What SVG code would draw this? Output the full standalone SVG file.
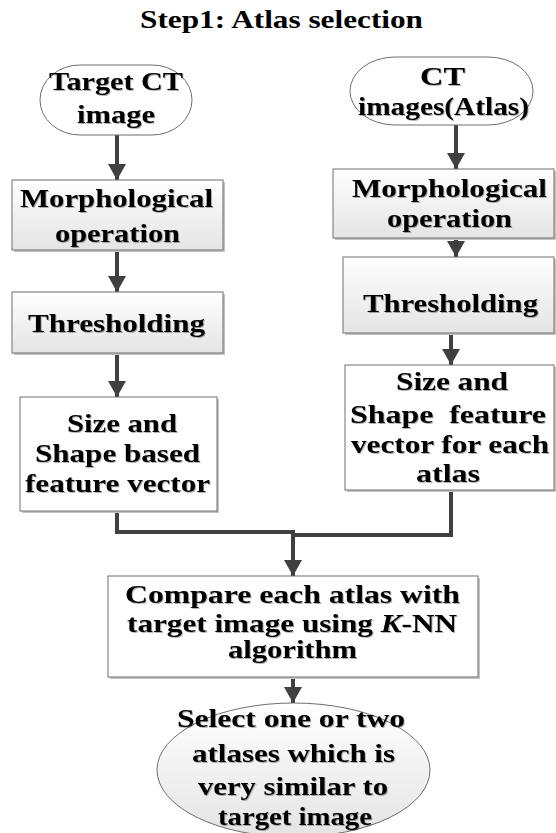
<svg xmlns="http://www.w3.org/2000/svg" width="556" height="833" viewBox="0 0 556 833">
<defs>
<linearGradient id="g1" x1="0" y1="0" x2="0" y2="1">
<stop offset="0" stop-color="#ffffff"/>
<stop offset="1" stop-color="#e4e4e4"/>
</linearGradient>
<marker id="ah" markerUnits="userSpaceOnUse" markerWidth="16" markerHeight="18" refX="16" refY="9" orient="auto">
<path d="M0,0 L16,9 L0,18 z" fill="#404040"/>
</marker>
<filter id="ts" x="-5%" y="-20%" width="110%" height="140%">
<feDropShadow dx="1" dy="1" stdDeviation="0.6" flood-color="#000" flood-opacity="0.3"/>
</filter>
</defs>
<style>
text{font-family:'Liberation Serif','DejaVu Serif',serif;font-weight:700;font-size:25px;fill:#000;text-anchor:middle;}
.t{filter:url(#ts);}
.box{stroke:#6e6e6e;stroke-width:1;}
.sh{fill:#c4c4c4;}
.w{fill:#ffffff;}
.g{fill:url(#g1);}
.c{fill:none;stroke:#404040;stroke-width:4;}
</style>
<g font-family="Liberation Serif, DejaVu Serif, serif">
<text x="281.5" y="28" font-size="23" textLength="283" lengthAdjust="spacingAndGlyphs">Step1: Atlas selection</text>

<g id="connectors">
<line class="c" x1="117" y1="135" x2="117" y2="180" marker-end="url(#ah)"/>
<line class="c" x1="117" y1="250" x2="117" y2="292" marker-end="url(#ah)"/>
<line class="c" x1="117" y1="353" x2="117" y2="397" marker-end="url(#ah)"/>
<line class="c" x1="456" y1="125" x2="456" y2="169" marker-end="url(#ah)"/>
<line class="c" x1="456" y1="238" x2="456" y2="257" marker-end="url(#ah)"/>
<line class="c" x1="451" y1="333" x2="451" y2="365" marker-end="url(#ah)"/>
<path class="c" d="M117,511 V532 H295"/>
<path class="c" d="M451,490 V535 H293"/>
<line class="c" x1="293" y1="530" x2="293" y2="576" marker-end="url(#ah)"/>
<line class="c" x1="293" y1="677" x2="293" y2="703" marker-end="url(#ah)"/>
</g>

<g id="target-ct">
<rect x="40" y="65" width="152" height="70" rx="40" ry="35" class="box w"/>
<text class="t" x="116" y="90" textLength="134" lengthAdjust="spacingAndGlyphs">Target CT</text>
<text class="t" x="116" y="123" textLength="78" lengthAdjust="spacingAndGlyphs">image</text>
</g>

<g id="morph-left">
<rect x="14" y="182" width="211" height="70" class="sh"/>
<rect x="12" y="180" width="211" height="70" class="box g"/>
<text class="t" x="116.5" y="207" textLength="193" lengthAdjust="spacingAndGlyphs">Morphological</text>
<text class="t" x="117.5" y="242" textLength="125" lengthAdjust="spacingAndGlyphs">operation</text>
</g>

<g id="thresh-left">
<rect x="14" y="294" width="211" height="61" class="sh"/>
<rect x="12" y="292" width="211" height="61" class="box g"/>
<text class="t" x="116.5" y="332" textLength="177" lengthAdjust="spacingAndGlyphs">Thresholding</text>
</g>

<g id="feature-left">
<rect x="22" y="399" width="197" height="114" class="sh"/>
<rect x="20" y="397" width="197" height="114" class="box w"/>
<text class="t" x="122" y="432" textLength="110" lengthAdjust="spacingAndGlyphs">Size and</text>
<text class="t" x="117.5" y="462" textLength="165" lengthAdjust="spacingAndGlyphs">Shape based</text>
<text class="t" x="117.5" y="492" textLength="185" lengthAdjust="spacingAndGlyphs">feature vector</text>
</g>

<g id="ct-atlas">
<rect x="350" y="57" width="183" height="68" rx="45" ry="34" class="box w"/>
<text class="t" x="442.5" y="85" textLength="45" lengthAdjust="spacingAndGlyphs">CT</text>
<text class="t" x="443.5" y="115" textLength="171" lengthAdjust="spacingAndGlyphs">images(Atlas)</text>
</g>

<g id="morph-right">
<rect x="335" y="171" width="222" height="69" class="sh"/>
<rect x="333" y="169" width="221" height="69" class="box g"/>
<text class="t" x="449.5" y="197" textLength="195" lengthAdjust="spacingAndGlyphs">Morphological</text>
<text class="t" x="449.5" y="227" textLength="125" lengthAdjust="spacingAndGlyphs">operation</text>
</g>

<g id="thresh-right">
<rect x="345" y="259" width="212" height="76" class="sh"/>
<rect x="343" y="257" width="211" height="76" class="box g"/>
<text class="t" x="450.5" y="312" textLength="175" lengthAdjust="spacingAndGlyphs">Thresholding</text>
</g>

<g id="feature-right">
<rect x="347" y="367" width="210" height="125" class="sh"/>
<rect x="345" y="365" width="209" height="125" class="box w"/>
<text class="t" x="452" y="390" textLength="112" lengthAdjust="spacingAndGlyphs">Size and</text>
<text class="t" x="448" y="423" textLength="196" lengthAdjust="spacingAndGlyphs" xml:space="preserve">Shape  feature</text>
<text class="t" x="450" y="453" textLength="198" lengthAdjust="spacingAndGlyphs">vector for each</text>
<text class="t" x="448" y="482" textLength="64" lengthAdjust="spacingAndGlyphs">atlas</text>
</g>

<g id="compare">
<rect x="110" y="578" width="370" height="101" class="sh"/>
<rect x="108" y="576" width="370" height="101" class="box w"/>
<text class="t" x="292.5" y="603" textLength="335" lengthAdjust="spacingAndGlyphs">Compare each atlas with</text>
<text class="t" x="292" y="632" textLength="330" lengthAdjust="spacingAndGlyphs">target image using <tspan font-style="italic">K</tspan>-NN</text>
<text class="t" x="292.5" y="658" textLength="129" lengthAdjust="spacingAndGlyphs">algorithm</text>
</g>

<g id="select">
<ellipse cx="293.5" cy="770" rx="136.5" ry="67" class="box g"/>
<text class="t" x="291" y="727" textLength="228" lengthAdjust="spacingAndGlyphs">Select one or two</text>
<text class="t" x="293.5" y="762" textLength="203" lengthAdjust="spacingAndGlyphs">atlases which is</text>
<text class="t" x="293" y="795" textLength="190" lengthAdjust="spacingAndGlyphs">very similar to</text>
<text class="t" x="295" y="825" textLength="154" lengthAdjust="spacingAndGlyphs">target image</text>
</g>
</g>
</svg>
